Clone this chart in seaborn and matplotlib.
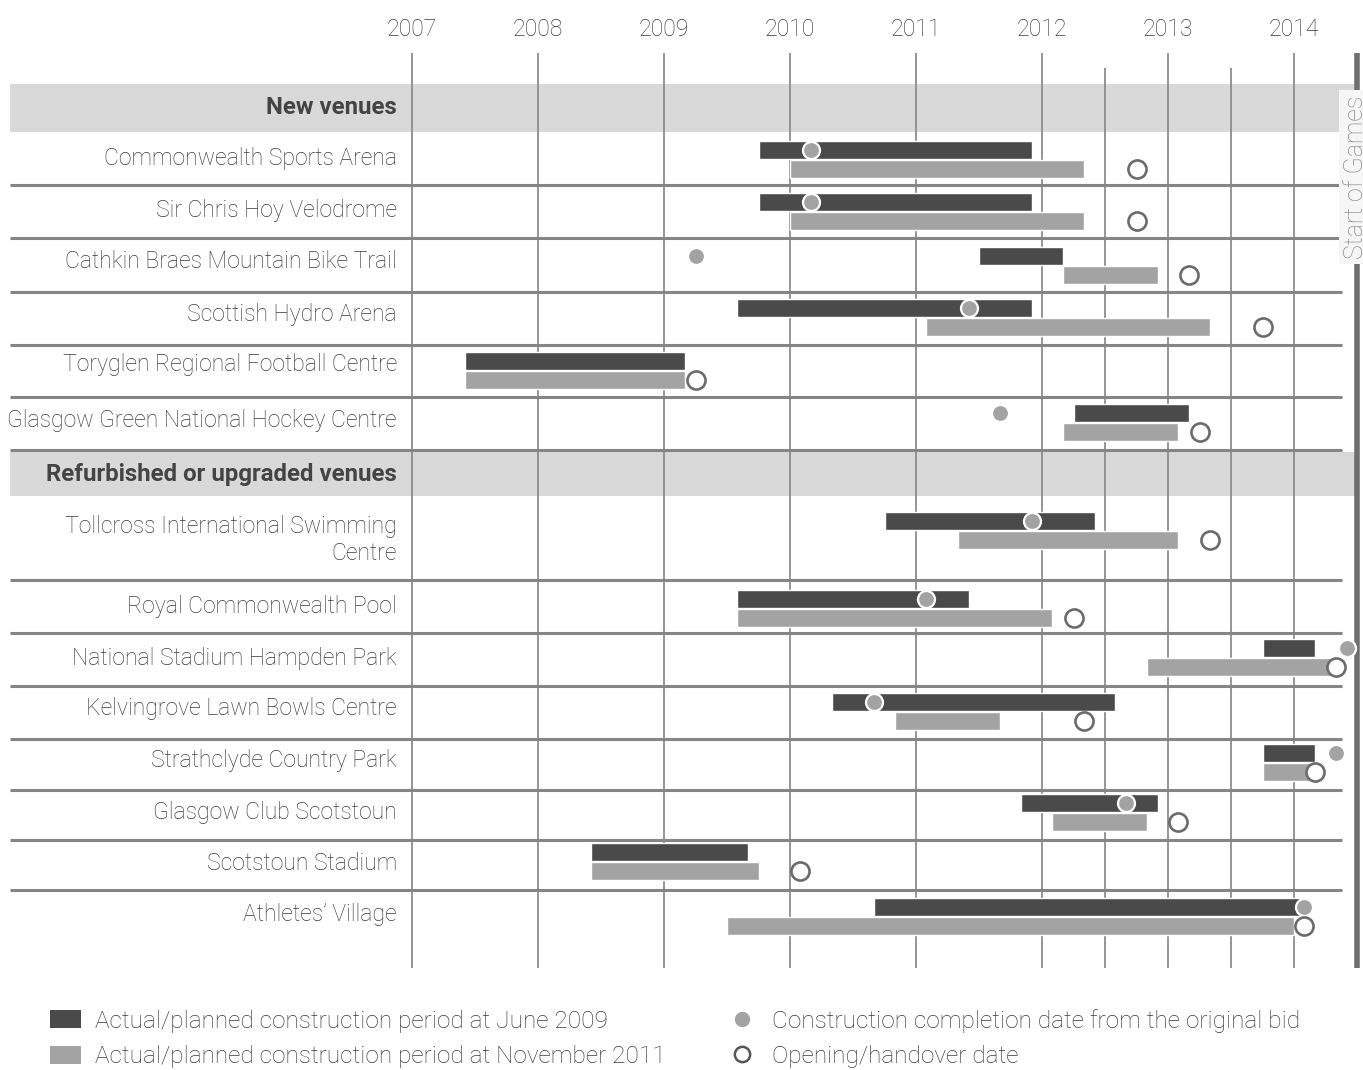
import matplotlib
matplotlib.use("Agg")
import matplotlib.pyplot as plt
from matplotlib.patches import Patch
from matplotlib.lines import Line2D
import seaborn as sns

# venues, top to bottom
venues = ["Commonwealth Sports Arena", "Sir Chris Hoy Velodrome",
          "Cathkin Braes Mountain Bike Trail", "Scottish Hydro Arena",
          "Toryglen Regional Football Centre", "Glasgow Green National Hockey Centre",
          "Tollcross International Swimming\nCentre", "Royal Commonwealth Pool",
          "National Stadium Hampden Park", "Kelvingrove Lawn Bowls Centre",
          "Strathclyde Country Park", "Glasgow Club Scotstoun",
          "Scotstoun Stadium", "Athletes\u2019 Village"]
groups = ["New venues", "Refurbished or upgraded venues"]

# construction period at June 2009 (decimal years)
jun09_start = [2009.75, 2009.75, 2011.50, 2009.58, 2007.42, 2012.25, 2010.75,
               2009.58, 2013.75, 2010.33, 2013.75, 2011.83, 2008.42, 2010.67]
jun09_end = [2011.92, 2011.92, 2012.17, 2011.92, 2009.17, 2013.17, 2012.42,
             2011.42, 2014.17, 2012.58, 2014.17, 2012.92, 2009.67, 2014.08]
# construction period at November 2011
nov11_start = [2010.00, 2010.00, 2012.17, 2011.08, 2007.42, 2012.17, 2011.33,
               2009.58, 2012.83, 2010.83, 2013.75, 2012.08, 2008.42, 2009.50]
nov11_end = [2012.33, 2012.33, 2012.92, 2013.33, 2009.17, 2013.08, 2013.08,
             2012.08, 2014.33, 2011.67, 2014.17, 2012.83, 2009.75, 2014.00]
# completion date from the original bid (None = not given)
bid_date = [2010.17, 2010.17, 2009.25, 2011.42, None, 2011.67, 2011.92,
            2011.08, 2014.42, 2010.67, 2014.33, 2012.67, None, 2014.08]
# opening / handover date
open_date = [2012.75, 2012.75, 2013.17, 2013.75, 2009.25, 2013.25, 2013.33,
             2012.25, 2014.33, 2012.33, 2014.17, 2013.08, 2010.08, 2014.08]

years = list(range(2007, 2015))
half_years = [2012.5, 2013.5]
games_start = 2014.5

# layout (pixels from top of the figure)
dark_y = [150, 202, 256, 308, 361, 413, 521, 599, 648, 702, 753, 803, 852, 907]
label_dy = [8, 8, 6, 6, 4, 7, 19, 7, 10, 7, 8, 9, 11, 8]
group_band = [(84, 132), (452, 496)]
separators = [185, 238, 292, 345, 397, 450, 580, 633, 686, 739, 790, 840, 890]

DARK = "#4a4a4a"
LIGHT = "#a3a3a3"
GRID = "#8c8c8c"
TEXT = "#3a3a3a"

sns.set_style("white")
plt.rcParams["font.family"] = ["Roboto", "DejaVu Sans"]

W, H = 1363, 1070
fig = plt.figure(figsize=(W / 100, H / 100), dpi=100)
ax = fig.add_axes([0, 0, 1, 1])


def px(x):
    # pixel column -> year
    return 2007 + (x - 412) / 126.0


ax.set_xlim(px(0), px(W))
ax.set_ylim(H, 0)
ax.axis("off")

# group header bands
for (top, bot), name in zip(group_band, groups):
    ax.fill_between([px(10), px(1358)], top, bot, color="#d9d9d9", lw=0, zorder=0)
    ax.text(px(397), (top + bot) / 2, name, ha="right", va="center",
            fontsize=17.3, fontweight="bold", color="#444444")

# year grid
ax.vlines(years, 53, 968, color=GRID, lw=1.3, zorder=1)
ax.vlines(half_years, 68, 968, color=GRID, lw=1.3, zorder=1)
for yr in years:
    ax.text(yr, 29, str(yr), ha="center", va="center", fontsize=16.6,
            fontweight="light", color=TEXT)

# row separators
ax.hlines(separators, px(10), px(1342), color="#858585", lw=2.2, zorder=1)

# start of games
ax.vlines(games_start, 53, 968, color="#6e6e6e", lw=4, zorder=2)
ax.text(px(1344), 177, "Start of Games", rotation=90, ha="left", va="center",
        fontsize=18, fontweight="light", color="#8a8a8a", zorder=3,
        bbox=dict(facecolor="#f6f6f6", edgecolor="none", pad=4))

light_y = [y + 19 for y in dark_y]
bar_h = 18

ax.barh(dark_y, [e - s for s, e in zip(jun09_start, jun09_end)], left=jun09_start,
        height=bar_h, color=DARK, zorder=3)
ax.barh(light_y, [e - s for s, e in zip(nov11_start, nov11_end)], left=nov11_start,
        height=bar_h, color=LIGHT, zorder=3)

for name, y, dy in zip(venues, dark_y, label_dy):
    ax.text(px(397), y + dy, name, ha="right", va="center", fontsize=16.6,
            fontweight="light", color=TEXT, linespacing=1.25)

bid_x = [b for b in bid_date if b is not None]
bid_y = [y for b, y in zip(bid_date, dark_y) if b is not None]
sns.scatterplot(x=bid_x, y=bid_y, ax=ax, s=150, color=LIGHT, edgecolor="white",
                linewidth=1.6, zorder=4)
sns.scatterplot(x=open_date, y=light_y, ax=ax, s=170, color="white",
                edgecolor="#6b6b6b", linewidth=1.9, zorder=5)

handles = [
    Patch(facecolor=DARK, edgecolor="none", label="Actual/planned construction period at June 2009"),
    Patch(facecolor=LIGHT, edgecolor="none", label="Actual/planned construction period at November 2011"),
    Line2D([], [], ls="none", marker="o", ms=10, mfc=LIGHT, mec=LIGHT,
           label="Construction completion date from the original bid"),
    Line2D([], [], ls="none", marker="o", ms=11, mfc="white", mec="#555555", mew=1.8,
           label="Opening/handover date"),
]
leg = fig.legend(handles=handles, loc="upper left", bbox_to_anchor=(50 / W, 1 - 1009 / H),
                 ncol=2, frameon=False, fontsize=17.6, handlelength=1.25, handleheight=0.75,
                 handletextpad=0.6, columnspacing=2.5, labelspacing=0.5, borderpad=0,
                 borderaxespad=0)
for t in leg.get_texts():
    t.set_color(TEXT)
    t.set_fontweight("light")

fig.savefig("out.png", dpi=100)
